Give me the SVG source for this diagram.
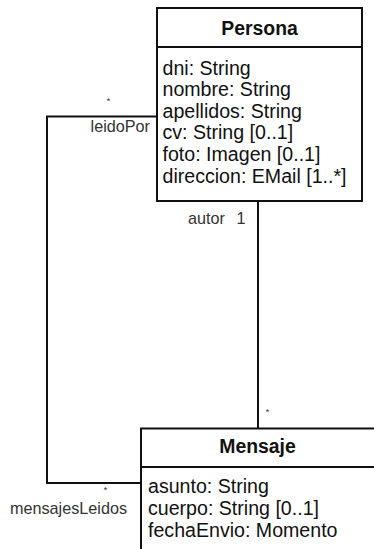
<svg xmlns="http://www.w3.org/2000/svg" width="374" height="549" viewBox="0 0 374 549">
<style>
.box{fill:#fff;stroke:#111;stroke-width:2}
.sep{stroke:#111;stroke-width:2}
.title{font-family:"Liberation Sans",Arial,sans-serif;font-size:19.4px;font-weight:bold;fill:#111;text-anchor:middle}
.attr{font-family:"Liberation Sans",Arial,sans-serif;font-size:19.6px;fill:#111}
.lbl{font-family:"Liberation Sans",Arial,sans-serif;font-size:16.2px;fill:#333}
.star{font-family:"Liberation Sans",Arial,sans-serif;font-size:9px;fill:#333;text-anchor:middle}
.conn{fill:none;stroke:#111;stroke-width:2}
</style>
<rect width="374" height="549" fill="#fff"/>
<g id="connectors">
<polyline class="conn" points="157,116.5 47,116.5 47,483 141,483"/>
<line class="conn" x1="258" y1="201" x2="258" y2="428"/>
<text class="star" x="108.5" y="104">*</text>
<text class="lbl" x="150" y="132" text-anchor="end">leidoPor</text>
<text class="star" x="105.5" y="493">*</text>
<text class="lbl" x="127" y="514" text-anchor="end">mensajesLeidos</text>
<text class="lbl" x="225" y="223.5" text-anchor="end">autor</text>
<text class="lbl" x="245.5" y="223.5" text-anchor="end">1</text>
<text class="star" x="267.5" y="415">*</text>
</g>
<g id="persona">
<rect class="box" x="157" y="8" width="205" height="193"/>
<line class="sep" x1="157" y1="47" x2="362" y2="47"/>
<text class="title" x="259.5" y="35">Persona</text>
<text class="attr" x="162.5" y="74.5">dni: String</text>
<text class="attr" x="162.5" y="96">nombre: String</text>
<text class="attr" x="162.5" y="117.7">apellidos: String</text>
<text class="attr" x="162.5" y="139.4">cv: String [0..1]</text>
<text class="attr" x="162.5" y="161">foto: Imagen [0..1]</text>
<text class="attr" x="162.5" y="182.7">direccion: EMail [1..*]</text>
</g>
<g id="mensaje">
<rect class="box" x="141" y="428.5" width="235" height="140"/>
<line class="sep" x1="141" y1="467" x2="376" y2="467"/>
<text class="title" x="257.5" y="453">Mensaje</text>
<text class="attr" x="148" y="493.3">asunto: String</text>
<text class="attr" x="148" y="515">cuerpo: String [0..1]</text>
<text class="attr" x="148" y="537">fechaEnvio: Momento</text>
</g>
</svg>
